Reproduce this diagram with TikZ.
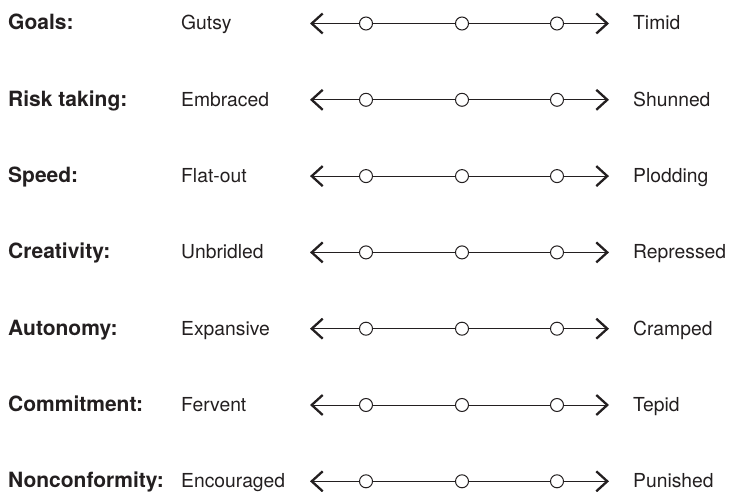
\documentclass[tikz,border=0pt]{standalone}
\usepackage{fontspec}
\setmainfont{TeX Gyre Heros}
\usetikzlibrary{arrows.meta}
\definecolor{ink}{HTML}{231F20}
\begin{document}
\begin{tikzpicture}[x=1pt,y=-1pt,
  cat/.style={anchor=base west,inner sep=0pt,font=\fontsize{21}{25}\selectfont\bfseries,text=ink},
  lab/.style={anchor=base west,inner sep=0pt,font=\fontsize{19.3}{23}\selectfont,text=ink},
  dot/.style={circle,draw=ink,fill=white,line width=1pt,minimum size=13pt,inner sep=0pt},
  scale line/.style={draw=ink,line width=1pt,{Straight Barb[length=11pt,width=20pt,line width=2.3pt]}-{Straight Barb[length=11pt,width=20pt,line width=2.3pt]}}
]
\useasboundingbox (0,0) rectangle (729,492);
\foreach \i/\c/\l/\r in {0/Goals:/Gutsy/Timid,
  1/Risk taking:/Embraced/Shunned,
  2/Speed:/Flat-out/Plodding,
  3/Creativity:/Unbridled/Repressed,
  4/Autonomy:/Expansive/Cramped,
  5/Commitment:/Fervent/Tepid,
  6/Nonconformity:/Encouraged/Punished}{
  \pgfmathsetmacro{\b}{30+76.3*\i}
  \pgfmathsetmacro{\m}{\b-6.5}
  \node[cat] (c\i) at (8,\b) {\c};
  \node[lab] (l\i) at (181,\b) {\l};
  \node[lab] (r\i) at (633,\b) {\r};
  \coordinate (a\i) at (310,\m);
  \coordinate (b\i) at (609,\m);
  \path[scale line] (a\i) -- (b\i);
  \node[dot] (p\i) at (366,\m) {};
  \node[dot] (q\i) at (462,\m) {};
  \node[dot] (s\i) at (557,\m) {};
}
\end{tikzpicture}
\end{document}
